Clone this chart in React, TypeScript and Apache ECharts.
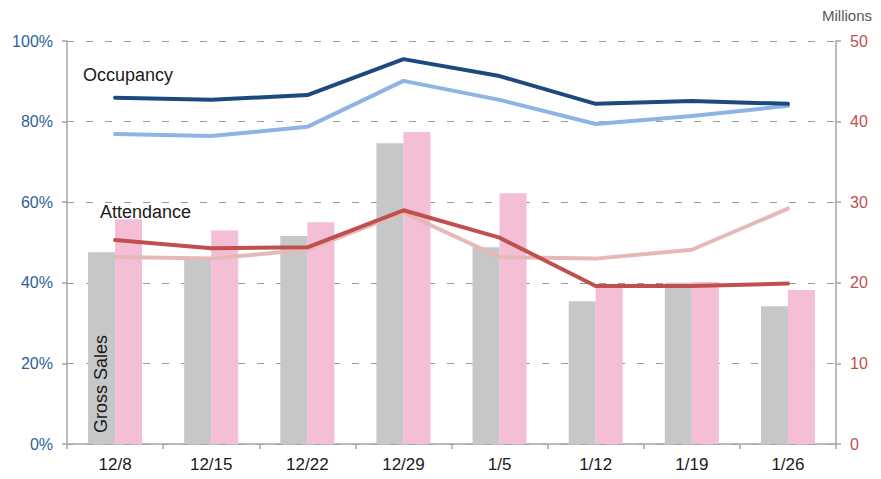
import React, { useEffect, useRef } from "react";
import * as echarts from "echarts";

const categories = ["12/8", "12/15", "12/22", "12/29", "1/5", "1/12", "1/19", "1/26"];
// Occupancy (%), left axis
const occupancyCurrent = [85.9, 85.4, 86.6, 95.5, 91.3, 84.4, 85.1, 84.4];
const occupancyPrior = [76.9, 76.4, 78.7, 90.1, 85.4, 79.4, 81.4, 83.9];
// Attendance (right-axis scale)
const attendanceCurrent = [25.3, 24.3, 24.4, 29.0, 25.6, 19.6, 19.6, 19.9];
const attendancePrior = [23.2, 23.0, 24.1, 28.7, 23.2, 23.0, 24.1, 29.2];
// Gross Sales (Millions), right axis
const grossGray = [23.8, 23.2, 25.8, 37.3, 24.4, 17.7, 20.0, 17.1];
const grossPink = [27.9, 26.5, 27.5, 38.7, 31.1, 19.7, 20.1, 19.1];

const FONT = "'Liberation Sans', Arial, sans-serif";

export default function App() {
  const ref = useRef<HTMLDivElement>(null);
  useEffect(() => {
    if (!ref.current) return;
    const chart = echarts.init(ref.current, undefined, { renderer: "svg" });
    const axisLineStyle = { color: "#a6a6a6", width: 1.5 };
    const split = { show: true, lineStyle: { color: "#9a9a9a", type: [7, 12] as any, width: 1 } };
    chart.setOption({
      animation: false,
      textStyle: { fontFamily: FONT },
      grid: { left: 67, right: 45, top: 41, bottom: 35 },
      xAxis: {
        type: "category",
        data: categories,
        axisLine: { lineStyle: axisLineStyle },
        axisTick: { show: true, length: 5, lineStyle: axisLineStyle },
        axisLabel: { color: "#1a1a1a", fontSize: 17, margin: 12, fontFamily: FONT },
      },
      yAxis: [
        {
          type: "value",
          min: 0,
          max: 100,
          interval: 20,
          axisLine: { show: true, lineStyle: axisLineStyle },
          axisTick: { show: true, length: 5, lineStyle: axisLineStyle },
          axisLabel: { formatter: "{value}%", color: "#2e5f9a", fontSize: 16, margin: 14, fontFamily: FONT },
          splitLine: split,
        },
        {
          type: "value",
          min: 0,
          max: 50,
          interval: 10,
          name: "Millions",
          nameLocation: "end",
          nameGap: 18,
          nameTextStyle: { color: "#595959", fontSize: 15, align: "center", padding: [0, 0, 0, 22], fontFamily: FONT },
          axisLine: { show: true, lineStyle: axisLineStyle },
          axisTick: { show: true, length: 5, lineStyle: axisLineStyle },
          axisLabel: { color: "#c0504d", fontSize: 16, margin: 14, fontFamily: FONT },
          splitLine: { show: false },
        },
      ],
      series: [
        {
          name: "Gross Sales Prior",
          type: "bar",
          yAxisIndex: 1,
          data: grossGray,
          barWidth: 27,
          barGap: "0%",
          itemStyle: { color: "#c6c7c9" },
        },
        {
          name: "Gross Sales",
          type: "bar",
          yAxisIndex: 1,
          data: grossPink,
          barWidth: 27,
          barGap: "0%",
          itemStyle: { color: "#f4bed6" },
        },
        {
          name: "Attendance Prior",
          type: "line",
          yAxisIndex: 1,
          data: attendancePrior,
          symbol: "none",
          lineStyle: { color: "#e6b9b8", width: 4, cap: "round", join: "round" },
        },
        {
          name: "Attendance",
          type: "line",
          yAxisIndex: 1,
          data: attendanceCurrent,
          symbol: "none",
          lineStyle: { color: "#c0504d", width: 4, cap: "round", join: "round" },
        },
        {
          name: "Occupancy Prior",
          type: "line",
          yAxisIndex: 0,
          data: occupancyPrior,
          symbol: "none",
          lineStyle: { color: "#8eb4e3", width: 4, cap: "round", join: "round" },
        },
        {
          name: "Occupancy",
          type: "line",
          yAxisIndex: 0,
          data: occupancyCurrent,
          symbol: "none",
          lineStyle: { color: "#1c4a7e", width: 4, cap: "round", join: "round" },
        },
      ],
      graphic: [
        {
          type: "text",
          left: 83,
          top: 66,
          z: 100,
          style: { text: "Occupancy", fontSize: 18, fill: "#1a1a1a", fontFamily: FONT },
        },
        {
          type: "text",
          left: 100,
          top: 203,
          z: 100,
          style: { text: "Attendance", fontSize: 18, fill: "#1a1a1a", fontFamily: FONT },
        },
        {
          type: "text",
          x: 101,
          y: 433,
          z: 100,
          rotation: Math.PI / 2,
          style: {
            text: "Gross Sales",
            fontSize: 18,
            fill: "#1a1a1a",
            fontFamily: FONT,
            align: "left",
            verticalAlign: "middle",
          },
        },
      ],
    });
    return () => chart.dispose();
  }, []);
  return <div ref={ref} style={{ width: 881, height: 479, margin: -8 }} />;
}
